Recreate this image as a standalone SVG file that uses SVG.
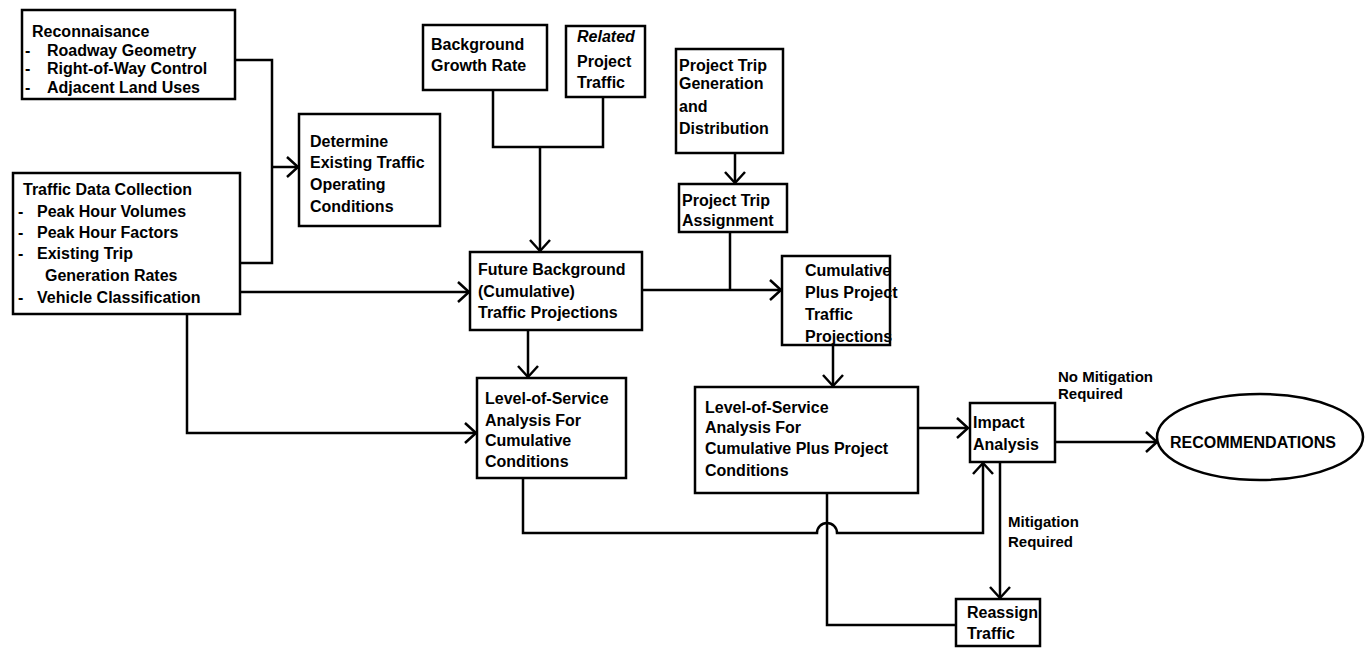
<svg xmlns="http://www.w3.org/2000/svg" width="1365" height="653" viewBox="0 0 1365 653">
<style>
.box{fill:#fff;stroke:#000;stroke-width:2.5}
.t{font-family:"Liberation Sans",Arial,sans-serif;font-weight:bold;font-size:16px;fill:#000}
.s{font-size:15px}
.c{fill:none;stroke:#000;stroke-width:2.5}
.a{marker-end:url(#arr)}
</style>
<defs>
<marker id="arr" markerWidth="14" markerHeight="24" refX="12" refY="11" orient="auto" markerUnits="userSpaceOnUse" overflow="visible">
<path d="M1,1 L12,11 L1,21" fill="none" stroke="#000" stroke-width="2.5"/>
</marker>
</defs>
<rect width="1365" height="653" fill="#fff"/>
<g id="connectors">
<path class="c" d="M235,60 H272 V263 H240"/>
<path class="c a" d="M272,167 H298"/>
<path class="c a" d="M240,292 H469"/>
<path class="c a" d="M187,314 V433 H476"/>
<path class="c" d="M493,90 V147 H603 V97"/>
<path class="c a" d="M540,147 V251"/>
<path class="c a" d="M735,153 V183"/>
<path class="c" d="M730,232 V290"/>
<path class="c a" d="M642,290 H781"/>
<path class="c a" d="M528,330 V377"/>
<path class="c a" d="M833,345 V386"/>
<path class="c a" d="M918,428 H968"/>
<path class="c a" d="M523,478 V533 H817 A10,10 0 0 1 837,533 H983 V463"/>
<path class="c" d="M827,493 V625 H956"/>
<path class="c a" d="M1000,462 V598"/>
<path class="c a" d="M1055,442 H1157"/>
</g>
<g id="reconnaisance">
<rect class="box" x="22" y="10" width="213" height="89"/>
<text class="t" x="32" y="37">Reconnaisance</text>
<text class="t" x="25" y="56">-</text><text class="t" x="47" y="56">Roadway Geometry</text>
<text class="t" x="25" y="74">-</text><text class="t" x="47" y="74">Right-of-Way Control</text>
<text class="t" x="25" y="93">-</text><text class="t" x="47" y="93">Adjacent Land Uses</text>
</g>
<g id="traffic-data">
<rect class="box" x="13" y="173" width="227" height="141"/>
<text class="t" x="23" y="195">Traffic Data Collection</text>
<text class="t" x="18" y="217">-</text><text class="t" x="37" y="217">Peak Hour Volumes</text>
<text class="t" x="18" y="238">-</text><text class="t" x="37" y="238">Peak Hour Factors</text>
<text class="t" x="18" y="259">-</text><text class="t" x="37" y="259">Existing Trip</text>
<text class="t" x="45" y="281">Generation Rates</text>
<text class="t" x="18" y="303">-</text><text class="t" x="37" y="303">Vehicle Classification</text>
</g>
<g id="determine">
<rect class="box" x="299" y="114" width="141" height="112"/>
<text class="t" x="310" y="147">Determine</text>
<text class="t" x="310" y="168">Existing Traffic</text>
<text class="t" x="310" y="190">Operating</text>
<text class="t" x="310" y="212">Conditions</text>
</g>
<g id="background-growth">
<rect class="box" x="423" y="25" width="124" height="65"/>
<text class="t" x="431" y="50">Background</text>
<text class="t" x="431" y="71">Growth Rate</text>
</g>
<g id="related-project">
<rect class="box" x="566" y="26" width="79" height="71"/>
<text class="t" x="577" y="42" font-style="italic">Related</text>
<text class="t" x="577" y="67">Project</text>
<text class="t" x="577" y="88">Traffic</text>
</g>
<g id="trip-generation">
<rect class="box" x="676" y="49" width="107" height="104"/>
<text class="t" x="679" y="71">Project Trip</text>
<text class="t" x="679" y="89">Generation</text>
<text class="t" x="679" y="112">and</text>
<text class="t" x="679" y="134">Distribution</text>
</g>
<g id="trip-assignment">
<rect class="box" x="679" y="184" width="108" height="48"/>
<text class="t" x="682" y="206">Project Trip</text>
<text class="t" x="682" y="226">Assignment</text>
</g>
<g id="future-background">
<rect class="box" x="470" y="252" width="172" height="78"/>
<text class="t" x="478" y="275">Future Background</text>
<text class="t" x="478" y="297">(Cumulative)</text>
<text class="t" x="478" y="318">Traffic Projections</text>
</g>
<g id="cumulative-plus">
<rect class="box" x="782" y="256" width="108" height="89"/>
<text class="t" x="805" y="276">Cumulative</text>
<text class="t" x="805" y="298">Plus Project</text>
<text class="t" x="805" y="320">Traffic</text>
<text class="t" x="805" y="342">Projections</text>
</g>
<g id="los-cumulative">
<rect class="box" x="477" y="378" width="149" height="100"/>
<text class="t" x="485" y="404">Level-of-Service</text>
<text class="t" x="485" y="426">Analysis For</text>
<text class="t" x="485" y="446">Cumulative</text>
<text class="t" x="485" y="467">Conditions</text>
</g>
<g id="los-plus-project">
<rect class="box" x="695" y="387" width="223" height="106"/>
<text class="t" x="705" y="413">Level-of-Service</text>
<text class="t" x="705" y="433">Analysis For</text>
<text class="t" x="705" y="454">Cumulative Plus Project</text>
<text class="t" x="705" y="476">Conditions</text>
</g>
<g id="impact-analysis">
<rect class="box" x="970" y="403" width="85" height="59"/>
<text class="t" x="973" y="428">Impact</text>
<text class="t" x="973" y="450">Analysis</text>
</g>
<g id="reassign">
<rect class="box" x="956" y="599" width="84" height="47"/>
<text class="t" x="967" y="618">Reassign</text>
<text class="t" x="967" y="639">Traffic</text>
</g>
<g id="recommendations">
<ellipse class="box" cx="1260" cy="437" rx="103" ry="43"/>
<text class="t" x="1170" y="448" font-size="17">RECOMMENDATIONS</text>
</g>
<g id="labels">
<text class="t s" x="1058" y="382">No Mitigation</text>
<text class="t s" x="1058" y="399">Required</text>
<text class="t s" x="1008" y="527">Mitigation</text>
<text class="t s" x="1008" y="547">Required</text>
</g>
</svg>
